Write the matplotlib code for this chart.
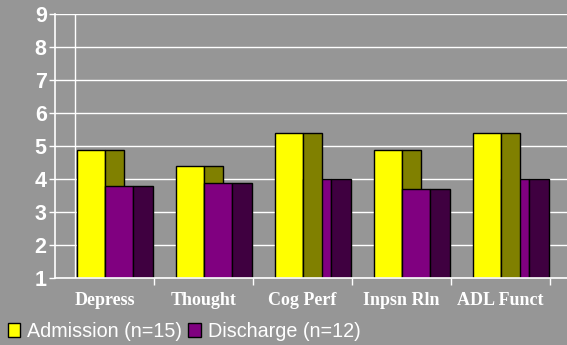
import matplotlib
matplotlib.use('Agg')
import matplotlib.pyplot as plt
from matplotlib.patches import Patch

categories = ['Depress', 'Thought', 'Cog Perf', 'Inpsn Rln', 'ADL Funct']
admission = [4.9, 4.4, 5.4, 4.9, 5.4]
discharge = [3.8, 3.9, 4.0, 3.7, 4.0]
series_names = ['Admission (n=15)', 'Discharge (n=12)']
yticks = [1, 2, 3, 4, 5, 6, 7, 8, 9]

bg = '#969696'
yellow, olive = '#ffff00', '#808000'
purple, dark_purple = '#800080', '#3f0040'

# which groups have the olive side face drawn over the purple front
side_on_top = [False, False, True, False, True]

W, H = 567, 345
fig = plt.figure(figsize=(W / 100, H / 100), dpi=100, facecolor=bg)
ax = fig.add_axes([55 / W, (H - 278.4) / H, (W - 55) / W, (278.4 - 14) / H])
ax.set_facecolor(bg)

ax.set_xlim(0, (W - 55) / 99)
ax.set_ylim(1, 9)

for y in yticks:
    ax.axhline(y, color='white', lw=1.0, zorder=1)
ax.axvline(20 / 99, color='white', lw=1.0, zorder=1)

base = 1
for i, (a, d) in enumerate(zip(admission, discharge)):
    x0 = i
    kw = dict(edgecolor='black', linewidth=1.0, align='edge', bottom=base)
    ax.bar(x0 + 0.222, a - base, width=0.283, color=yellow, zorder=3, **kw)
    z_side = 5 if side_on_top[i] else 3
    ax.bar(x0 + 0.505, a - base, width=0.192, color=olive, zorder=z_side, **kw)
    ax.bar(x0 + 0.505, d - base, width=0.283, color=purple, zorder=4, **kw)
    ax.bar(x0 + 0.788, d - base, width=0.200, color=dark_purple, zorder=4, **kw)

for side in ['top', 'right']:
    ax.spines[side].set_visible(False)
for side in ['left', 'bottom']:
    ax.spines[side].set_color('white')
    ax.spines[side].set_linewidth(1.2)
    ax.spines[side].set_zorder(6)

ax.set_yticks(yticks)
ax.set_yticklabels([str(t) for t in yticks], fontsize=15.5, fontweight='bold',
                   color='white', family='Liberation Sans')
ax.tick_params(axis='y', length=4, width=1, color='white', pad=2)

ax.set_xticks(range(1, len(categories) + 1))
ax.set_xticklabels([])
ax.tick_params(axis='x', length=5, width=1, color='white')

# category names sit below the axis, baseline about 27 px under it
label_y = 1 - 26.6 / 33.05
for i, name in enumerate(categories):
    ax.text(i + 0.5, label_y, name, ha='center', va='baseline',
            fontsize=13, fontweight='bold', color='white', family='Liberation Serif')

handles = [Patch(facecolor=yellow, edgecolor='black', linewidth=1.0),
           Patch(facecolor=purple, edgecolor='black', linewidth=1.0)]
leg = fig.legend(handles, series_names, loc='lower left', bbox_to_anchor=(7.5 / W, 4 / H),
                 ncol=2, frameon=False, handlelength=0.65, handleheight=0.7,
                 handletextpad=0.35, columnspacing=0.3, borderpad=0, borderaxespad=0,
                 prop={'family': 'Liberation Sans', 'size': 14.2})
for t in leg.get_texts():
    t.set_color('white')

plt.savefig('out.png', dpi=100, facecolor=bg)
